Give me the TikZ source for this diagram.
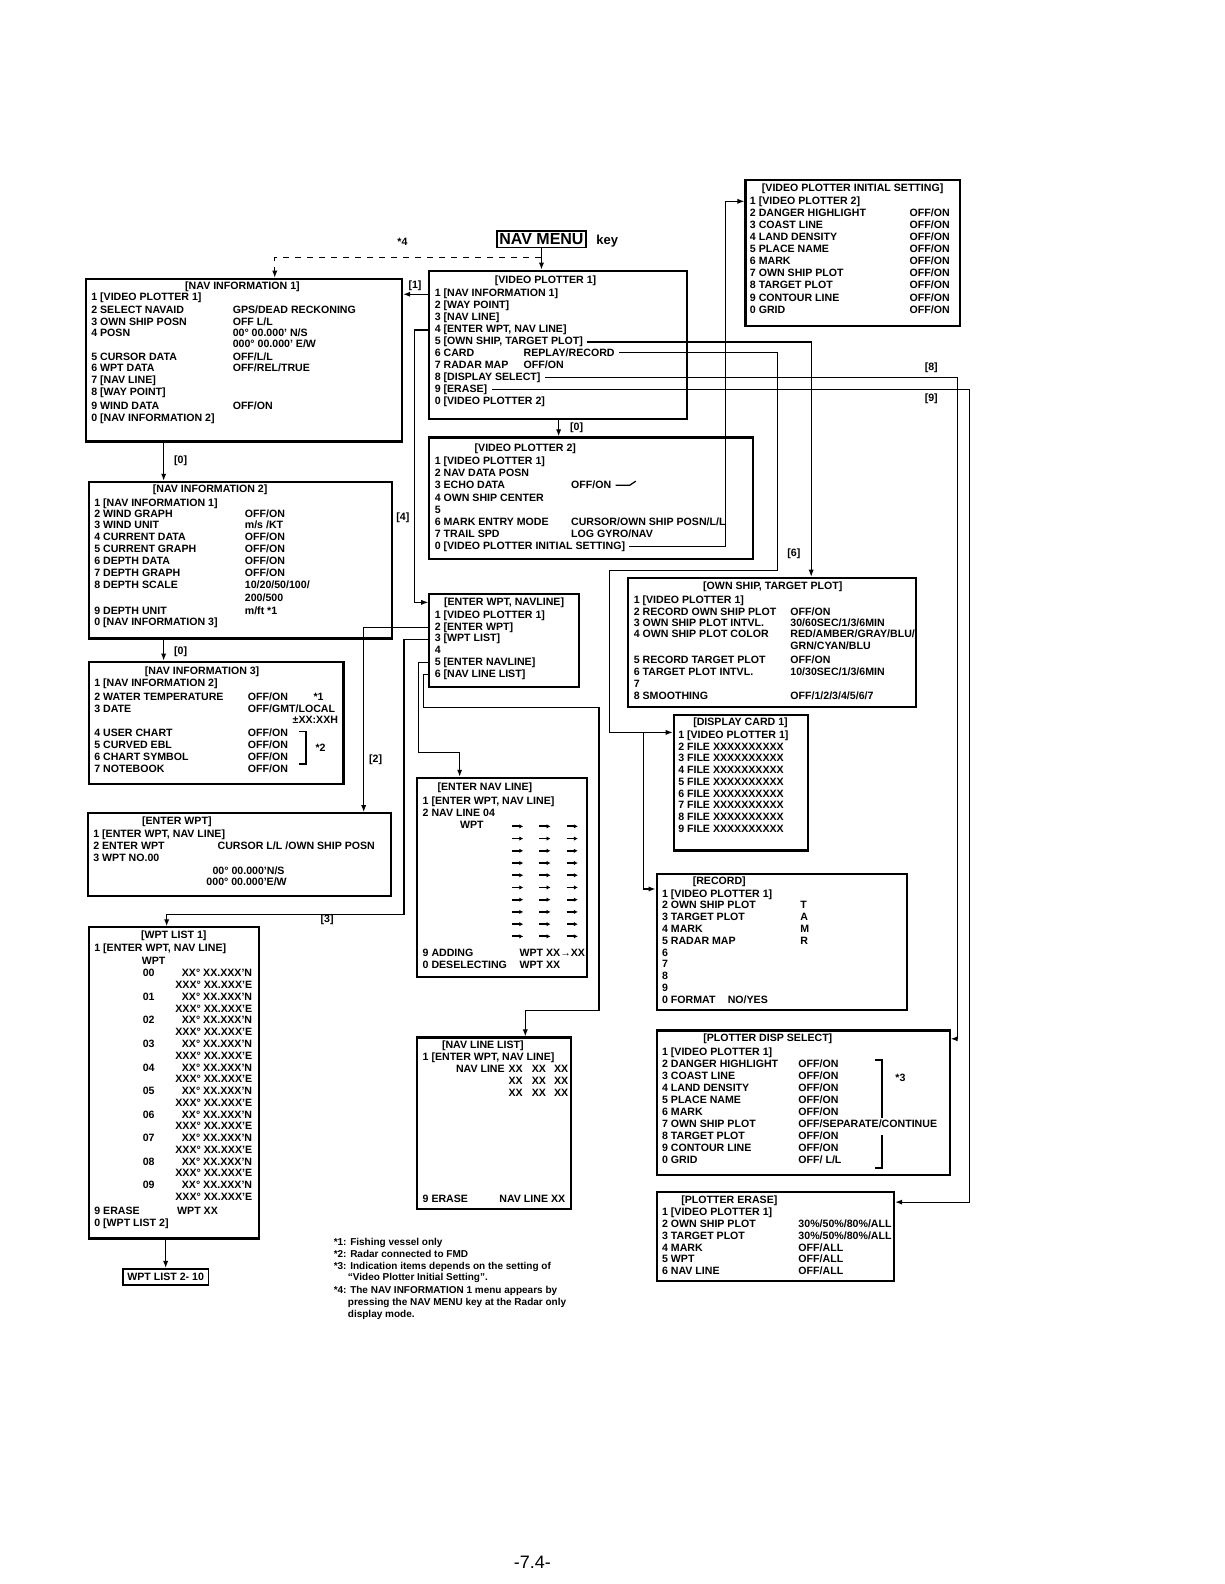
\documentclass[tikz,border=0pt]{standalone}
\usepackage{fontspec}
\setmainfont{Liberation Sans}
\usetikzlibrary{fit,arrows.meta}

\tikzset{
  menubox/.style={draw, line width=1.1pt, inner sep=0pt},
  mtxt/.style={font=\fontsize{5.3}{6}\selectfont\bfseries, inner sep=0pt, anchor=base west},
  mtitle/.style={mtxt, anchor=base},
  tag/.style={mtxt},
  link/.style={line width=0.6pt},
  arr/.style={link, -{Latex[length=3.5pt,width=2.6pt]}},
}

\begin{document}
\begin{tikzpicture}[x=0.50495pt, y=-0.50495pt]
\useasboundingbox[fill=white] (0,0) rectangle (1212,1568);

% NAV MENU key
\node[draw, line width=0.9pt, inner sep=1.3pt, font=\fontsize{8}{8}\selectfont\bfseries] (navmenu) at (536,237) {NAV MENU};
\node[mtxt, font=\fontsize{6.5}{7}\selectfont\bfseries, anchor=west] (navkey) at (590,239) {key};

% Boxes
\node[menubox, fit={(738,178) (950,323)}] (vpis) {};
\node[menubox, fit={(85,276) (398,437)}] (ni1) {};
\node[menubox, fit={(425,268) (680,415)}] (vp1) {};
\node[menubox, fit={(425,433) (745,553)}] (vp2) {};
\node[menubox, fit={(88,477) (388,632)}] (ni2) {};
\node[menubox, fit={(88,655) (340,776)}] (ni3) {};
\node[menubox, fit={(425,588) (573,680)}] (ewnl) {};
\node[menubox, fit={(622,572) (907,700)}] (ostp) {};
\node[menubox, fit={(667,708) (800,842)}] (dcard) {};
\node[menubox, fit={(87,805) (387,887)}] (ewpt) {};
\node[menubox, fit={(413,770) (581,967)}] (enl) {};
\node[menubox, fit={(88,918) (256,1226)}] (wpl1) {};
\node[menubox, fit={(650,865) (898,1000)}] (rec) {};
\node[menubox, fit={(413,1027) (565,1197)}] (nll) {};
\node[menubox, fit={(650,1020) (940,1163)}] (pds) {};
\node[menubox, fit={(650,1180) (885,1268)}] (per) {};
\node[draw, line width=0.8pt, mtxt, anchor=center, inner sep=2.2pt] (wpl2) at (164,1264) {WPT LIST 2- 10};

% [VIDEO PLOTTER INITIAL SETTING]
\node[mtitle] (vpis-t) at (844,190) {[VIDEO PLOTTER INITIAL SETTING]};
\foreach \a/\b [count=\i] in {{1 [VIDEO PLOTTER 2]}/{}, {2 DANGER HIGHLIGHT}/{OFF/ON},
    {3 COAST LINE}/{OFF/ON}, {4 LAND DENSITY}/{OFF/ON}, {5 PLACE NAME}/{OFF/ON},
    {6 MARK}/{OFF/ON}, {7 OWN SHIP PLOT}/{OFF/ON}, {8 TARGET PLOT}/{OFF/ON},
    {9 CONTOUR LINE}/{OFF/ON}, {0 GRID}/{OFF/ON}} {
  \node[mtxt] (vpis-\i) at (742,{202+(\i-1)*12}) {\a};
  \node[mtxt] (vpis-v\i) at (900,{202+(\i-1)*12}) {\b};
}

% [NAV INFORMATION 1]
\node[mtitle] (ni1-t) at (240,287) {[NAV INFORMATION 1]};
\foreach \y/\a/\b [count=\i] in {297/{1 [VIDEO PLOTTER 1]}/{},
    310/{2 SELECT NAVAID}/{GPS/DEAD RECKONING}, 322/{3 OWN SHIP POSN}/{OFF L/L},
    333/{4 POSN}/{00° 00.000' N/S}, 344/{}/{000° 00.000' E/W},
    357/{5 CURSOR DATA}/{OFF/L/L}, 368/{6 WPT DATA}/{OFF/REL/TRUE},
    380/{7 [NAV LINE]}/{}, 392/{8 [WAY POINT]}/{}, 405/{9 WIND DATA}/{OFF/ON},
    417/{0 [NAV INFORMATION 2]}/{}} {
  \node[mtxt] (ni1-\i) at (90,\y) {\a};
  \node[mtxt] (ni1-v\i) at (230,\y) {\b};
}

% [VIDEO PLOTTER 1]
\node[mtitle] (vp1-t) at (540,281) {[VIDEO PLOTTER 1]};
\foreach \a/\b [count=\i] in {{1 [NAV INFORMATION 1]}/{}, {2 [WAY POINT]}/{},
    {3 [NAV LINE]}/{}, {4 [ENTER WPT, NAV LINE]}/{}, {5 [OWN SHIP, TARGET PLOT]}/{},
    {6 CARD}/{REPLAY/RECORD}, {7 RADAR MAP}/{OFF/ON}, {8 [DISPLAY SELECT]}/{},
    {9 [ERASE]}/{}, {0 [VIDEO PLOTTER 2]}/{}} {
  \node[mtxt] (vp1-\i) at (430,{294+(\i-1)*11.8}) {\a};
  \node[mtxt] (vp1-v\i) at (518,{294+(\i-1)*11.8}) {\b};
}

% [VIDEO PLOTTER 2]
\node[mtitle] (vp2-t) at (520,447) {[VIDEO PLOTTER 2]};
\foreach \a/\b [count=\i] in {{1 [VIDEO PLOTTER 1]}/{}, {2 NAV DATA POSN}/{},
    {3 ECHO DATA}/{OFF/ON}, {4 OWN SHIP CENTER}/{}, {5}/{},
    {6 MARK ENTRY MODE}/{CURSOR/OWN SHIP POSN/L/L}, {7 TRAIL SPD}/{LOG GYRO/NAV},
    {0 [VIDEO PLOTTER INITIAL SETTING]}/{}} {
  \node[mtxt] (vp2-\i) at (430,{460+(\i-1)*12}) {\a};
  \node[mtxt] (vp2-v\i) at (565,{460+(\i-1)*12}) {\b};
}
\draw[link] ([xshift=2pt]vp2-v3.east) -- ++(14,0) -- ++(6,-4);

% [NAV INFORMATION 2]
\node[mtitle] (ni2-t) at (208,488) {[NAV INFORMATION 2]};
\foreach \y/\a/\b [count=\i] in {501/{1 [NAV INFORMATION 1]}/{},
    512/{2 WIND GRAPH}/{OFF/ON}, 523/{3 WIND UNIT}/{m/s /KT},
    535/{4 CURRENT DATA}/{OFF/ON}, 547/{5 CURRENT GRAPH}/{OFF/ON},
    559/{6 DEPTH DATA}/{OFF/ON}, 571/{7 DEPTH GRAPH}/{OFF/ON},
    583/{8 DEPTH SCALE}/{10/20/50/100/}, 595/{}/{200/500},
    608/{9 DEPTH UNIT}/{m/ft *1}, 619/{0 [NAV INFORMATION 3]}/{}} {
  \node[mtxt] (ni2-\i) at (93,\y) {\a};
  \node[mtxt] (ni2-v\i) at (242,\y) {\b};
}

% [NAV INFORMATION 3]
\node[mtitle] (ni3-t) at (200,668) {[NAV INFORMATION 3]};
\foreach \y/\a/\b [count=\i] in {680/{1 [NAV INFORMATION 2]}/{},
    693/{2 WATER TEMPERATURE}/{OFF/ON}, 705/{3 DATE}/{OFF/GMT/LOCAL},
    729/{4 USER CHART}/{OFF/ON}, 741/{5 CURVED EBL}/{OFF/ON},
    753/{6 CHART SYMBOL}/{OFF/ON}, 765/{7 NOTEBOOK}/{OFF/ON}} {
  \node[mtxt] (ni3-\i) at (93,\y) {\a};
  \node[mtxt] (ni3-v\i) at (245,\y) {\b};
}
\node[mtxt, anchor=base east] (ni3-h) at (335,716) {±XX:XXH};
\node[mtxt] (ni3-n1) at (310,693) {*1};
\draw[line width=0.8pt] (296,724) -- (303,724) -- (303,756) -- (296,756);
\node[mtxt] (ni3-n2) at (312,744) {*2};

% [ENTER WPT, NAVLINE]
\node[mtitle] (ewnl-t) at (499,599) {[ENTER WPT, NAVLINE]};
\foreach \a [count=\i] in {{1 [VIDEO PLOTTER 1]}, {2 [ENTER WPT]}, {3 [WPT LIST]},
    {4}, {5 [ENTER NAVLINE]}, {6 [NAV LINE LIST]}} {
  \node[mtxt] (ewnl-\i) at (430,{612+(\i-1)*11.7}) {\a};
}

% [OWN SHIP, TARGET PLOT]
\node[mtitle] (ostp-t) at (765,584) {[OWN SHIP, TARGET PLOT]};
\foreach \y/\a/\b [count=\i] in {597/{1 [VIDEO PLOTTER 1]}/{},
    609/{2 RECORD OWN SHIP PLOT}/{OFF/ON}, 620/{3 OWN SHIP PLOT INTVL.}/{30/60SEC/1/3/6MIN},
    631/{4 OWN SHIP PLOT COLOR}/{RED/AMBER/GRAY/BLU/}, 643/{}/{GRN/CYAN/BLU},
    657/{5 RECORD TARGET PLOT}/{OFF/ON}, 669/{6 TARGET PLOT INTVL.}/{10/30SEC/1/3/6MIN},
    681/{7}/{}, 692/{8 SMOOTHING}/{OFF/1/2/3/4/5/6/7}} {
  \node[mtxt] (ostp-\i) at (627,\y) {\a};
  \node[mtxt] (ostp-v\i) at (782,\y) {\b};
}

% [DISPLAY CARD 1]
\node[mtitle] (dcard-t) at (733,718) {[DISPLAY CARD 1]};
\node[mtxt] (dcard-1) at (671,731) {1 [VIDEO PLOTTER 1]};
\foreach \k in {2,...,9} {
  \node[mtxt] (dcard-\k) at (671,{731+(\k-1)*11.6}) {\k\ FILE XXXXXXXXXX};
}

% [ENTER WPT]
\node[mtitle] (ewpt-t) at (175,816) {[ENTER WPT]};
\foreach \a/\b [count=\i] in {{1 [ENTER WPT, NAV LINE]}/{},
    {2 ENTER WPT}/{CURSOR L/L /OWN SHIP POSN}, {3 WPT NO.00}/{}} {
  \node[mtxt] (ewpt-\i) at (92,{829+(\i-1)*12}) {\a};
  \node[mtxt] (ewpt-v\i) at (215,{829+(\i-1)*12}) {\b};
}
\node[mtxt] (ewpt-la) at (210,866) {00° 00.000'N/S};
\node[mtxt] (ewpt-lo) at (204,877) {000° 00.000'E/W};

% [ENTER NAV LINE]
\node[mtitle] (enl-t) at (480,783) {[ENTER NAV LINE]};
\node[mtxt] (enl-1) at (418,796) {1 [ENTER WPT, NAV LINE]};
\node[mtxt] (enl-2) at (418,808) {2 NAV LINE 04};
\node[mtxt] (enl-w) at (455,820) {WPT};
\foreach \r in {0,...,9} {
  \foreach \x in {513,540,567} {
    \draw[line width=0.9pt, -{Latex[length=2pt,width=2.2pt]}] ({\x-6},{818+\r*12.1}) -- ({\x+5},{818+\r*12.1});
  }
}
\node[mtxt] (enl-9) at (418,947) {9 ADDING};
\node[mtxt] (enl-9v) at (514,947) {WPT XX→XX};
\node[mtxt] (enl-0) at (418,959) {0 DESELECTING};
\node[mtxt] (enl-0v) at (514,959) {WPT XX};

% [WPT LIST 1]
\node[mtitle] (wpl1-t) at (172,929) {[WPT LIST 1]};
\node[mtxt] (wpl1-1) at (93,942) {1 [ENTER WPT, NAV LINE]};
\node[mtxt] (wpl1-w) at (140,955) {WPT};
\foreach \k in {0,...,9} {
  \node[mtxt] (wpl1-n\k) at (141,{967+\k*23.3}) {0\k};
  \node[mtxt, anchor=base east] (wpl1-a\k) at (250,{967+\k*23.3}) {XX° XX.XXX'N};
  \node[mtxt, anchor=base east] (wpl1-b\k) at (250,{978.5+\k*23.3}) {XXX° XX.XXX'E};
}
\node[mtxt] (wpl1-9) at (93,1202) {9 ERASE};
\node[mtxt] (wpl1-9v) at (175,1202) {WPT XX};
\node[mtxt] (wpl1-0) at (93,1214) {0 [WPT LIST 2]};

% [RECORD]
\node[mtitle] (rec-t) at (712,876) {[RECORD]};
\foreach \a/\b [count=\i] in {{1 [VIDEO PLOTTER 1]}/{}, {2 OWN SHIP PLOT}/{T},
    {3 TARGET PLOT}/{A}, {4 MARK}/{M}, {5 RADAR MAP}/{R}, {6}/{}, {7}/{}, {8}/{},
    {9}/{}, {0 FORMAT}/{}} {
  \node[mtxt] (rec-\i) at (655,{888+(\i-1)*11.7}) {\a};
  \node[mtxt] (rec-v\i) at (792,{888+(\i-1)*11.7}) {\b};
}
\node[mtxt] (rec-fmt) at (720,993.3) {NO/YES};

% [NAV LINE LIST]
\node[mtitle] (nll-t) at (478,1038) {[NAV LINE LIST]};
\node[mtxt] (nll-1) at (418,1050) {1 [ENTER WPT, NAV LINE]};
\node[mtxt] (nll-2) at (451,1062) {NAV LINE};
\foreach \r in {0,1,2} {
  \foreach \c/\x in {1/503, 2/526, 3/548} {
    \node[mtxt] (nll-\r-\c) at (\x,{1062+\r*11.6}) {XX};
  }
}
\node[mtxt] (nll-9) at (418,1190) {9 ERASE};
\node[mtxt] (nll-9v) at (494,1190) {NAV LINE XX};

% [PLOTTER DISP SELECT]
\node[mtitle] (pds-t) at (760,1031) {[PLOTTER DISP SELECT]};
\foreach \a/\b [count=\i] in {{1 [VIDEO PLOTTER 1]}/{}, {2 DANGER HIGHLIGHT}/{OFF/ON},
    {3 COAST LINE}/{OFF/ON}, {4 LAND DENSITY}/{OFF/ON}, {5 PLACE NAME}/{OFF/ON},
    {6 MARK}/{OFF/ON}, {7 OWN SHIP PLOT}/{OFF/SEPARATE/CONTINUE},
    {8 TARGET PLOT}/{OFF/ON}, {9 CONTOUR LINE}/{OFF/ON}, {0 GRID}/{OFF/ L/L}} {
  \node[mtxt] (pds-\i) at (655,{1045+(\i-1)*11.9}) {\a};
  \node[mtxt] (pds-v\i) at (790,{1045+(\i-1)*11.9}) {\b};
}
\draw[line width=0.8pt] (866,1049) -- (873,1049) -- (873,1107);
\draw[line width=0.8pt] (873,1124) -- (873,1156) -- (866,1156);
\node[mtxt] (pds-n3) at (886,1071) {*3};

% [PLOTTER ERASE]
\node[mtitle] (per-t) at (722,1191) {[PLOTTER ERASE]};
\foreach \a/\b [count=\i] in {{1 [VIDEO PLOTTER 1]}/{},
    {2 OWN SHIP PLOT}/{30\%/50\%/80\%/ALL}, {3 TARGET PLOT}/{30\%/50\%/80\%/ALL},
    {4 MARK}/{OFF/ALL}, {5 WPT}/{OFF/ALL}, {6 NAV LINE}/{OFF/ALL}} {
  \node[mtxt] (per-\i) at (655,{1203+(\i-1)*11.8}) {\a};
  \node[mtxt] (per-v\i) at (790,{1203+(\i-1)*11.8}) {\b};
}

% Connectors
\draw[arr] (navmenu.south) -- (navmenu.south |- vp1.north);
\coordinate (nmsplit) at (536,255);
\coordinate (c4) at (272,255);
\draw[arr, dashed] (nmsplit) -- (c4) -- (c4 |- ni1.north);
\node[tag] (t4s) at (393,243) {*4};

\draw[arr] (vp1.west |- vp1-1) -- (ni1.east |- vp1-1);
\node[tag] (t1) at (404,286) {[1]};

\coordinate (c4x) at (410,0);
\draw[arr] (vp1.west |- vp1-4) -- (c4x |- vp1-4) -- (c4x |- ewnl-t) -- (ewnl.west |- ewnl-t);
\node[tag] (t4) at (392,515) {[4]};

\coordinate (c0) at (553,0);
\draw[arr] (c0 |- vp1.south) -- (c0 |- vp2.north);
\node[tag] (t0a) at (564,426) {[0]};

\coordinate (c5) at (803,0);
\draw[arr] ([xshift=2pt]vp1-5.east) -| (c5 |- ostp.north);

\coordinate (c6a) at (770,565);
\coordinate (c6b) at (603,565);
\coordinate (c6c) at (603,725);
\coordinate (c6d) at (637,725);
\coordinate (c6e) at (637,880);
\draw[arr] ([xshift=2pt]vp1-v6.east) -| (c6a) -- (c6b) -- (c6c) -- (dcard.west |- c6c);
\draw[arr] (c6d) -- (c6e) -- (rec.west |- c6e);
\node[tag] (t6) at (779,551) {[6]};

\coordinate (c8) at (948,0);
\draw[arr] ([xshift=2pt]vp1-8.east) -| (c8 |- pds-t) -- (pds.east |- pds-t);
\node[tag] (t8) at (915,367) {[8]};
\coordinate (c9) at (960,0);
\coordinate (c9y) at (0,1190);
\draw[arr] ([xshift=2pt]vp1-9.east) -| (c9 |- c9y) -- (per.east |- c9y);
\node[tag] (t9) at (915,397) {[9]};

\coordinate (cvs) at (718,0);
\draw[arr] ([xshift=2pt]vp2-8.east) -| (cvs |- vpis-1) -- (vpis.west |- vpis-1);

\coordinate (cni) at (162,0);
\draw[arr] (cni |- ni1.south) -- (cni |- ni2.north);
\node[tag] (t0b) at (172,459) {[0]};
\draw[arr] (cni |- ni2.south) -- (cni |- ni3.north);
\node[tag] (t0c) at (172,648) {[0]};

\coordinate (c2) at (360,0);
\draw[arr] (ewnl.west |- ewnl-2) -| (c2 |- ewpt.north);
\node[tag] (t2) at (365,755) {[2]};

\coordinate (c3) at (400,905);
\coordinate (c3b) at (165,905);
\draw[arr] (ewnl.west |- ewnl-3) -| (c3) -- (c3b) -- (c3b |- wpl1.north);
\node[tag] (t3) at (317,913) {[3]};

\coordinate (cn5a) at (414,745);
\coordinate (cn5b) at (455,745);
\draw[arr] (ewnl.west |- ewnl-5) -| (cn5a) -- (cn5b) -- (cn5b |- enl.north);

\coordinate (cn6a) at (419,700);
\coordinate (cn6b) at (593,700);
\coordinate (cn6c) at (593,1000);
\coordinate (cn6d) at (520,1000);
\draw[arr] (ewnl.west |- ewnl-6) -| (cn6a) -- (cn6b) -- (cn6c) -- (cn6d) -- (cn6d |- nll.north);

\coordinate (cw) at (164,0);
\draw[arr] (cw |- wpl1.south) -- (cw |- wpl2.north);

% Notes
\foreach \x/\y/\t [count=\i] in {330/1233/{*1: Fishing vessel only},
    330/1245/{*2: Radar connected to FMD},
    330/1257/{*3: Indication items depends on the setting of},
    344/1268/{``Video Plotter Initial Setting''.},
    330/1280/{*4: The NAV INFORMATION 1 menu appears by},
    344/1292/{pressing the NAV MENU key at the Radar only},
    344/1304/{display mode.}} {
  \node[mtxt, font=\fontsize{5}{6}\selectfont\bfseries] (note-\i) at (\x,\y) {\t};
}

\node[font=\fontsize{9}{10}\selectfont] (pgno) at (527,1547) {-7.4-};
\end{tikzpicture}
\end{document}
